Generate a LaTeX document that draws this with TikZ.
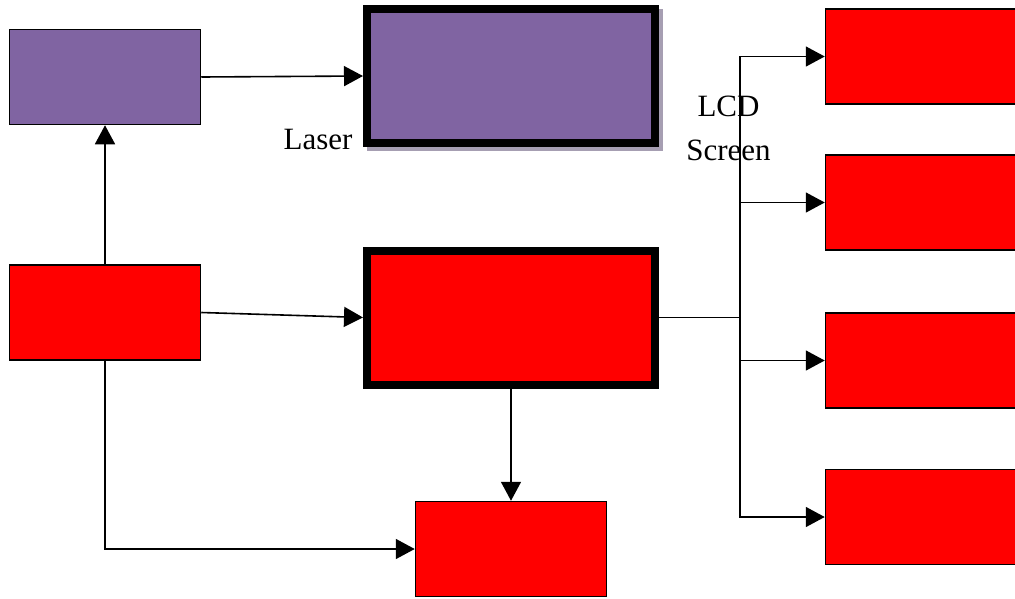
\documentclass[tikz,border=0pt]{standalone}
\usepackage{fontspec}
\setmainfont{Liberation Serif}
\usetikzlibrary{arrows.meta,backgrounds}
\definecolor{boxpurple}{RGB}{128,100,162}
\definecolor{boxred}{RGB}{255,0,0}
\definecolor{shadowgrey}{RGB}{166,158,178}

\begin{document}
\begin{tikzpicture}[x=1pt,y=-1pt,
  box/.style={draw=black, line width=1.5pt, minimum width=191pt, minimum height=95pt, inner sep=0pt},
  widebox/.style={box, minimum width=200pt},
  bigbox/.style={draw=black, line width=8pt, minimum width=288pt, minimum height=134pt, inner sep=0pt},
  link/.style={line width=1.6pt, -{Triangle[length=19pt,width=20pt]}},
  wire/.style={line width=1.6pt},
  lbl/.style={font=\fontsize{31}{44}\selectfont, inner sep=0pt, align=center}]
\useasboundingbox (0,0) rectangle (1015,598);
\clip (0,0) rectangle (1015,598);

% left column
\node[box, fill=boxpurple] (pctl) at (105,77) {};
\node[box, fill=boxred] (ctrl) at (105,312.5) {};

% centre column
\node[bigbox, fill=boxpurple] (laser) at (511,76) {};
\node[bigbox, fill=boxred] (cpu) at (511,317.5) {};
\node[box, fill=boxred] (out) at (511,549) {};

% right column
\node[widebox, fill=boxred] (r1) at (925.5,56.5) {};
\node[widebox, fill=boxred] (r2) at (925.5,202.5) {};
\node[widebox, fill=boxred] (r3) at (925.5,360.5) {};
\node[widebox, fill=boxred] (r4) at (925.5,517) {};

% drop shadow of the laser block
\begin{scope}[on background layer]
  \fill[shadowgrey] ([shift={(4,4)}]laser.north west) rectangle ([shift={(4,4)}]laser.south east);
\end{scope}

% labels (base anchor sits on the last line)
\node[lbl, anchor=base] (lasertxt) at (318,149) {Laser};
\node[lbl, anchor=base] (lcdtxt) at (728.5,160) {LCD\\Screen};

% connectors
\draw[link] (pctl.east) -- (laser.west);
\draw[link] (ctrl.north) -- (pctl.south);
\draw[link] (ctrl.east) -- (cpu.west);
\draw[link] (ctrl.south) |- (out.west);
\draw[link] (cpu.south) -- (out.north);

\coordinate (bus) at (740,317.5);
\draw[wire] (cpu.east) -- (bus);
\draw[link] (bus) |- (r1.west);
\draw[link] (bus) |- (r2.west);
\draw[link] (bus) |- (r3.west);
\draw[link] (bus) |- (r4.west);
\end{tikzpicture}
\end{document}
